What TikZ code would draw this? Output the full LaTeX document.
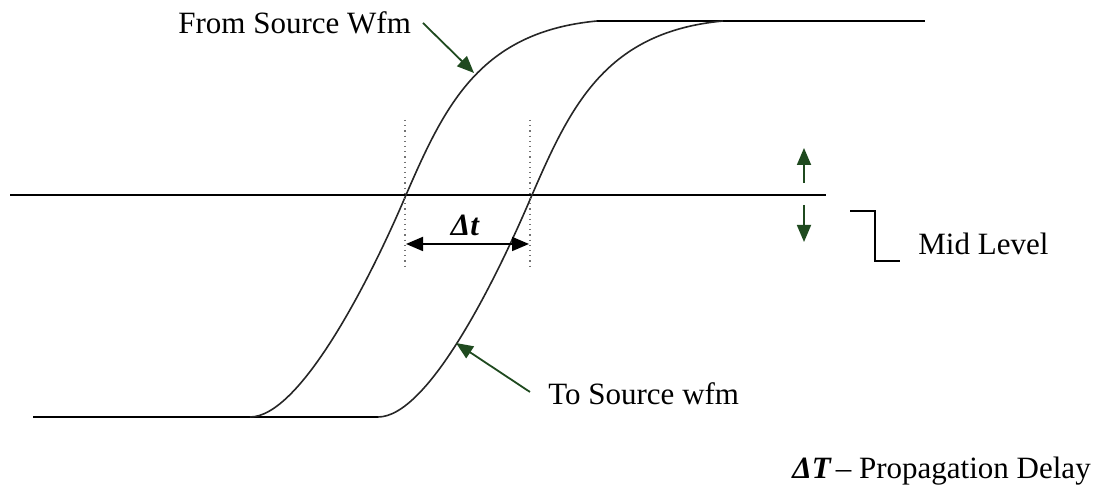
\documentclass[tikz,border=0pt]{standalone}
\usepackage{fontspec}
\setmainfont{Liberation Serif}
\usetikzlibrary{arrows.meta,positioning}
\definecolor{ptrgreen}{HTML}{1F4A1F}

\begin{document}
\begin{tikzpicture}[
  x=0.5pt, y=-0.5pt,
  wave/.style ={draw=black!85, line width=0.8pt},
  lvl/.style  ={draw=black, line width=1pt},
  ptr/.style  ={-{Triangle[length=8.5pt, width=7pt]}, ptrgreen, line width=0.9pt},
  dim/.style  ={{Triangle[length=8.5pt, width=7pt]}-{Triangle[length=8.5pt, width=7pt]}, black, line width=0.9pt},
  guide/.style={draw=black!55, dotted, line width=0.6pt},
  lbl/.style  ={font=\fontsize{15.5}{18}\selectfont, inner sep=0pt, anchor=base west},
]
  \useasboundingbox (0,0) rectangle (1105,490);

  % levels and waveform points
  \coordinate (lowL)      at (33,417);
  \coordinate (midL)      at (10,195);
  \coordinate (midR)      at (826,195);
  \coordinate (topR)      at (925,21);
  \coordinate (fromStart) at (250,417);
  \coordinate (fromMid)   at (406,195);
  \coordinate (fromEnd)   at (597,21);
  \coordinate (toStart)   at (378,417);
  \coordinate (toMid)     at (532,195);
  \coordinate (toEnd)     at (723,21);

  \draw[lvl] (lowL) -- (toStart);
  \draw[lvl] (midL) -- (midR);
  \draw[lvl] (fromEnd) -- (topR);

  \draw[wave] (fromStart) .. controls (300,417) and (370,280) .. (fromMid)
                          .. controls (445,105) and (480,32) .. (fromEnd);
  \draw[wave] (toStart)   .. controls (428,417) and (496,280) .. (toMid)
                          .. controls (571,105) and (606,32) .. (toEnd);

  % delay measurement
  \coordinate (gAtop) at (405,120);
  \coordinate (gAbot) at (405,268);
  \coordinate (gBtop) at (530,120);
  \coordinate (gBbot) at (530,268);
  \draw[guide] (gAtop) -- (gAbot);
  \draw[guide] (gBtop) -- (gBbot);
  \coordinate (dtL) at (406,244);
  \coordinate (dtR) at (529,244);
  \draw[dim] (dtL) -- (dtR);
  \node[font=\fontsize{15.5}{18}\selectfont\bfseries\itshape, inner sep=0pt] (dtlbl) at (465,225) {Δt};

  % labels and pointers
  \node[lbl] (fromlbl)  at (178,34)  {From Source Wfm};
  \node[lbl] (tolbl)    at (548,405) {To Source wfm};
  \node[lbl] (midlbl)   at (918,255) {Mid Level};
  \node[lbl] (delaylbl) at (792,479) {{\bfseries\itshape ΔT}\,– Propagation Delay};

  \coordinate (fromTail) at (423,23);
  \coordinate (fromTip)  at (474,73);
  \coordinate (toTail)   at (530,392);
  \coordinate (toTip)    at (456,343);
  \draw[ptr] (fromTail) -- (fromTip);
  \draw[ptr] (toTail) -- (toTip);

  \coordinate (upTail)   at (804,183);
  \coordinate (upTip)    at (804,148);
  \coordinate (downTail) at (804,205);
  \coordinate (downTip)  at (804,242);
  \draw[ptr] (upTail) -- (upTip);
  \draw[ptr] (downTail) -- (downTip);

  % mid level bracket
  \coordinate (brA) at (850,211);
  \coordinate (brB) at (875,211);
  \coordinate (brC) at (875,261);
  \coordinate (brD) at (900,261);
  \draw[black, line width=0.8pt] (brA) -- (brB) -- (brC) -- (brD);
\end{tikzpicture}
\end{document}
